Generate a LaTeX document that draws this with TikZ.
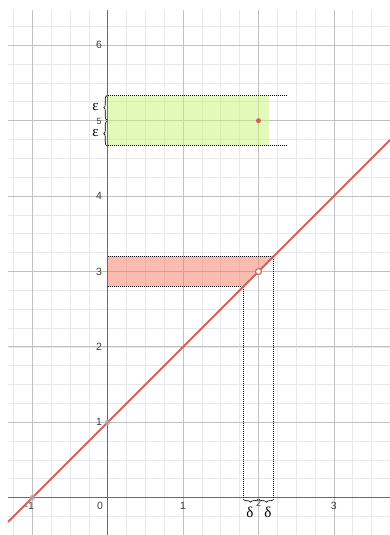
\documentclass[tikz,border=0pt]{standalone}
\usepackage{fontspec}
\setmainfont{Liberation Serif}
\newfontfamily\axfont{Liberation Sans}
\usetikzlibrary{decorations.pathreplacing}
\definecolor{minorgrid}{RGB}{232,232,232}
\definecolor{majorgrid}{RGB}{192,192,192}
\definecolor{axisgray}{RGB}{105,105,105}
\definecolor{labgray}{RGB}{60,60,60}
\definecolor{greenfill}{RGB}{200,244,115}
\definecolor{redfill}{RGB}{246,120,100}
\definecolor{linered}{RGB}{204,100,94}
\definecolor{ptgray}{RGB}{175,175,175}
\begin{document}
\begin{tikzpicture}[x=75.4pt,y=75.4pt,
  ticklab/.style={font=\axfont\fontsize{10.5}{12}\selectfont, text=labgray, inner sep=0pt},
  smalllab/.style={font=\axfont\fontsize{9}{11}\selectfont, text=labgray, inner sep=0pt, text height=6.4pt, text depth=0pt},
  greek/.style={font=\fontsize{15}{17}\selectfont, inner sep=0pt},
  epsl/.style={greek, text height=6.8pt, text depth=0pt},
  dotline/.style={line width=0.8pt, dash pattern=on 0.9pt off 1.1pt},
  bracestyle/.style={decorate, decoration={brace, amplitude=3pt}, line width=0.6pt}]
\useasboundingbox (-1.4284,-0.4947) rectangle (3.7440,6.6008);
% grid region
\coordinate (GLL) at (-1.322,-0.4947);
\coordinate (GUR) at (3.744,6.467);
\begin{scope}
\clip (GLL) rectangle (GUR);
\draw[minorgrid, line width=0.7pt, step=0.25] (-1.5,-0.75) grid (4,6.75);
\draw[majorgrid, line width=0.8pt, step=1] (-2,-1) grid (4,7);
\end{scope}
% fills
\fill[greenfill, fill opacity=0.5] (0,4.667) rectangle (2.143,5.333);
\fill[redfill, fill opacity=0.5] (0,2.8) -- (1.8,2.8) -- (2.2,3.2) -- (0,3.2) -- cycle;
% axes
\draw[axisgray, line width=1.1pt] (-1.322,0) -- (3.744,0);
\draw[axisgray, line width=1.1pt] (0,-0.4947) -- (0,6.467);
% tick labels
\node[ticklab, anchor=east] (xm1) at (-0.975,-0.11) {-1};
\node[ticklab] (x0) at (-0.102,-0.11) {0};
\node[ticklab] (x1) at (1,-0.11) {1};
\node[ticklab] (x3) at (3,-0.11) {3};
\node[ticklab] (y1) at (-0.115,1) {1};
\node[ticklab] (y2) at (-0.115,2) {2};
\node[ticklab] (y3) at (-0.115,3) {3};
\node[ticklab] (y4) at (-0.115,4) {4};
\node[ticklab] (y6) at (-0.115,6) {6};
% dotted guides
\draw[dotline] (0,5.333) -- (2.37,5.333);
\draw[dotline] (0,4.667) -- (2.37,4.667);
\draw[dotline] (0,3.2) -- (2.2,3.2) -- (2.2,0);
\draw[dotline] (0,2.8) -- (1.8,2.8) -- (1.8,0);
% graph line
\coordinate (L0) at (-1.322,-0.322);
\coordinate (L1) at (3.744,4.744);
\draw[linered, line width=2pt] (L0) -- (L1);
% points
\coordinate (A) at (-1,0);
\coordinate (B) at (0,1);
\coordinate (P) at (2,3);
\coordinate (Q) at (2,5);
\fill[ptgray, fill opacity=0.7] (A) circle (3pt);
\fill[ptgray, fill opacity=0.7] (B) circle (3pt);
\fill[linered] (Q) circle (2.5pt);
\draw[linered, fill=white, line width=1.1pt] (P) circle (3pt);
% epsilon braces
\draw[bracestyle] (-0.012,5.01) -- (-0.012,5.333);
\draw[bracestyle] (-0.012,4.667) -- (-0.012,4.99);
\node[epsl] (e1) at (-0.16,5.175) {ε};
\node[epsl] (e2) at (-0.16,4.83) {ε};
\node[smalllab] (y5) at (-0.115,4.998) {5};
% delta braces
\draw[bracestyle] (1.99,-0.02) -- (1.8,-0.02);
\draw[bracestyle] (2.2,-0.02) -- (2.01,-0.02);
\node[greek] (d1) at (1.885,-0.19) {δ};
\node[greek] (d2) at (2.125,-0.19) {δ};
\node[smalllab] (x2) at (2,-0.07) {2};
\end{tikzpicture}
\end{document}
